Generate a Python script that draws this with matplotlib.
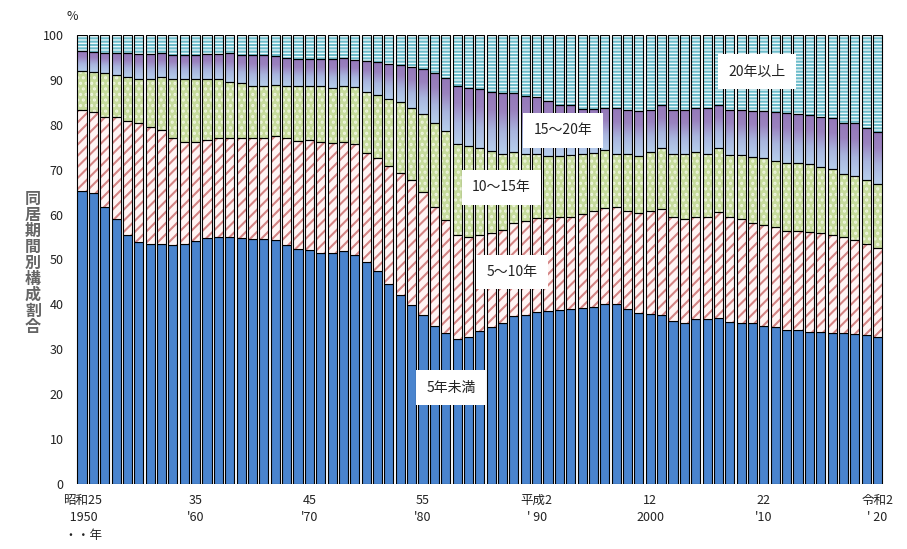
import numpy as np
import matplotlib.pyplot as plt
from matplotlib.colors import LinearSegmentedColormap

plt.rcParams['font.family'] = ['Noto Sans CJK JP', 'DejaVu Sans']
plt.rcParams['hatch.linewidth'] = 1.5

# 同居期間別 離婚構成割合 (%), 1950-2020
years = np.arange(1950, 2021)
under5 = [65.3, 64.7, 61.6, 59.0, 55.4, 54.0, 53.4, 53.4, 53.2, 53.4,
          54.2, 54.8, 55.1, 55.0, 54.7, 54.6, 54.5, 54.4, 53.2, 52.3,
          52.1, 51.5, 51.5, 51.9, 50.9, 49.5, 47.4, 44.5, 42.1, 39.9,
          37.6, 35.2, 33.6, 32.4, 32.8, 34.1, 34.9, 35.8, 37.4, 37.6,
          38.3, 38.5, 38.8, 39.0, 39.1, 39.5, 40.2, 40.2, 39.0, 38.0,
          37.9, 37.6, 36.4, 35.8, 36.7, 36.7, 37.0, 36.1, 35.9, 35.8,
          35.2, 35.0, 34.4, 34.3, 33.9, 33.9, 33.7, 33.6, 33.4, 33.1, 32.7]
y5_10 = [18.0, 18.2, 20.2, 22.8, 25.4, 26.3, 26.2, 25.4, 23.9, 22.8,
         21.9, 21.8, 21.9, 22.0, 22.4, 22.4, 22.6, 23.0, 23.8, 24.2,
         24.5, 24.7, 24.4, 24.2, 24.8, 24.3, 25.1, 26.3, 27.2, 27.7,
         27.4, 26.4, 25.2, 23.0, 22.3, 21.3, 20.9, 20.8, 20.7, 21.0,
         21.0, 20.7, 20.7, 20.5, 21.0, 21.3, 21.2, 21.6, 21.9, 22.3,
         23.0, 23.6, 23.1, 23.3, 22.8, 22.8, 23.6, 23.4, 23.1, 22.4,
         22.5, 22.2, 22.0, 22.1, 22.3, 22.1, 21.8, 21.3, 20.9, 20.4, 19.9]
y10_15 = [8.7, 8.9, 9.7, 9.4, 9.9, 10.0, 10.7, 11.8, 13.0, 13.9,
          14.1, 13.5, 13.1, 12.6, 12.1, 11.6, 11.6, 11.5, 11.7, 12.1,
          12.0, 12.4, 12.4, 12.6, 12.8, 13.6, 14.2, 14.9, 15.7, 16.2,
          17.3, 18.7, 19.8, 20.3, 20.2, 19.5, 18.4, 17.0, 15.9, 14.8,
          14.3, 13.9, 13.6, 13.8, 13.4, 13.0, 13.0, 11.8, 12.5, 12.8,
          13.1, 13.6, 14.1, 14.4, 14.4, 14.1, 14.2, 13.8, 14.3, 14.6,
          14.8, 14.8, 15.2, 15.2, 15.0, 14.7, 14.6, 14.1, 14.4, 14.1, 14.2]
y15_20 = [4.5, 4.5, 4.6, 4.9, 5.2, 5.4, 5.4, 5.3, 5.4, 5.4,
          5.4, 5.7, 5.7, 6.3, 6.4, 7.0, 6.8, 6.4, 6.2, 6.0,
          6.0, 6.0, 6.3, 6.2, 5.9, 6.8, 7.2, 7.9, 8.4, 9.1,
          10.1, 11.2, 11.9, 13.0, 13.0, 13.0, 13.0, 13.4, 13.0, 13.1,
          12.5, 12.2, 11.4, 11.0, 10.1, 9.8, 9.3, 10.2, 9.9, 10.0,
          9.4, 9.5, 9.8, 9.9, 9.8, 10.1, 9.6, 10.1, 10.0, 10.3,
          10.6, 10.9, 11.1, 10.9, 11.0, 11.1, 11.5, 11.5, 11.6, 11.6, 11.5]
over20 = [3.5, 3.7, 3.9, 3.9, 4.1, 4.3, 4.3, 4.1, 4.5, 4.5,
          4.4, 4.2, 4.2, 4.1, 4.4, 4.4, 4.5, 4.7, 5.1, 5.4,
          5.4, 5.4, 5.4, 5.1, 5.6, 5.8, 6.1, 6.4, 6.6, 7.1,
          7.6, 8.5, 9.5, 11.3, 11.7, 12.1, 12.8, 13.0, 13.0, 13.5,
          13.9, 14.7, 15.5, 15.7, 16.4, 16.4, 16.3, 16.2, 16.7, 16.9,
          16.6, 15.7, 16.6, 16.6, 16.3, 16.3, 15.6, 16.6, 16.7, 16.9,
          16.9, 17.1, 17.3, 17.5, 17.8, 18.2, 18.4, 19.5, 19.7, 20.8, 21.7]

tick_years = [1950, 1960, 1970, 1980, 1990, 2000, 2010, 2020]
tick_labels = ['昭和25\n 1950\n ・・年', '35\n\'60', '45\n\'70', '55\n\'80',
               '平成2\n\' 90', '12\n2000', '22\n\'10', '令和2\n\' 20']

fig = plt.figure(figsize=(9.07, 5.49), dpi=100)
ax = fig.add_axes([71.8 / 907, 65 / 549, 816 / 907, 449 / 549])

x = np.arange(len(years))
w = 0.8
b1 = np.array(under5)
b2 = b1 + np.array(y5_10)
b3 = b2 + np.array(y10_15)
b4 = b3 + np.array(y15_20)

ax.bar(x, under5, w, color='#4A84CE', edgecolor='black', linewidth=0.8, zorder=2)

ax.bar(x, y5_10, w, bottom=b1, color='#FFF4F4', edgecolor='#D48585', hatch='///',
       linewidth=0, zorder=2)
ax.bar(x, y5_10, w, bottom=b1, fill=False, edgecolor='black', linewidth=0.8, zorder=3)

ax.bar(x, y10_15, w, bottom=b2, color='#C6DB9C', edgecolor='#EEF5DE', hatch='...',
       linewidth=0, zorder=2)
ax.bar(x, y10_15, w, bottom=b2, fill=False, edgecolor='black', linewidth=0.8, zorder=3)

# 15~20年: vertical gradient light blue -> purple inside each bar
purple = LinearSegmentedColormap.from_list(
    'pg', [(0, '#B6CEEC'), (0.35, '#A9B5DE'), (0.7, '#9A82BF'), (1, '#9477B8')])
grad = np.linspace(0, 1, 64).reshape(-1, 1)
for xi, lo, h in zip(x, b3, y15_20):
    ax.imshow(grad, extent=(xi - w / 2, xi + w / 2, lo, lo + h), origin='lower',
              cmap=purple, aspect='auto', zorder=2, interpolation='bilinear')
ax.bar(x, y15_20, w, bottom=b3, fill=False, edgecolor='black', linewidth=0.8, zorder=3)

ax.bar(x, over20, w, bottom=b4, color='#F4FBFC', edgecolor='#6DBCCB', hatch='-----',
       linewidth=0, zorder=2)
ax.bar(x, over20, w, bottom=b4, fill=False, edgecolor='black', linewidth=0.8, zorder=3)

ax.set_xlim(-0.9, 70.9)
ax.set_ylim(0, 100)
ax.set_yticks(np.arange(0, 101, 10))
ax.set_xticks([list(years).index(y) for y in tick_years])
ax.set_xticklabels(tick_labels, linespacing=1.45, va='top')
ax.tick_params(axis='both', length=0, labelsize=9, colors='#222222')
ax.tick_params(axis='y', pad=6)
ax.tick_params(axis='x', pad=7)
for s in ax.spines.values():
    s.set_visible(False)

box = dict(boxstyle='square,pad=0.75', facecolor='white', edgecolor='none')
lab = [('20年以上', 59.4, 91.8), ('15～20年', 42.3, 78.8), ('10～15年', 36.9, 66.1),
       ('5～10年', 37.8, 47.2), ('5年未満', 32.5, 21.4)]
for t, lx, ly in lab:
    ax.text(lx, ly, t, ha='center', va='center', fontsize=10, color='#222222',
            bbox=box, zorder=5)

fig.text(72 / 907, 1 - 17 / 549, '%', fontsize=9, ha='center', va='center', color='#222222')
fig.text(33 / 907, 1 - 263 / 549, '\n'.join('同居期間別構成割合'), fontsize=11.5,
         fontweight='bold', color='#666666', ha='center', va='center', linespacing=1.0)

fig.savefig('out.png', dpi=100)
